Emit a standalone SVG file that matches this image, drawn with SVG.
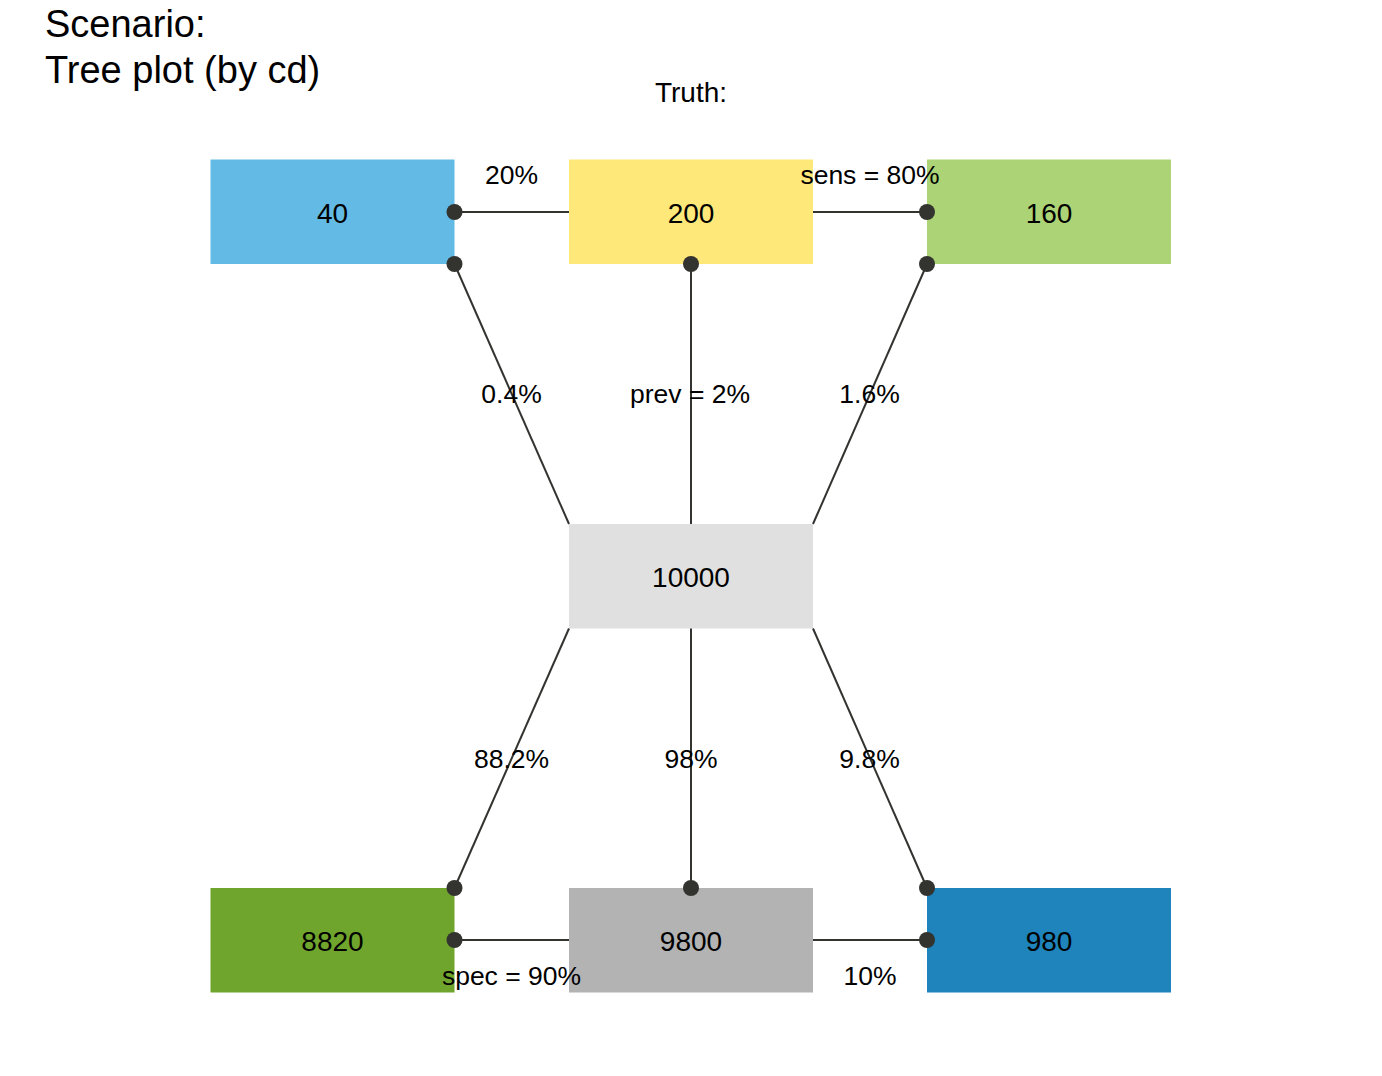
<svg xmlns="http://www.w3.org/2000/svg" width="1382" height="1076" viewBox="0 0 1382 1076">
<style>
text{font-family:"Liberation Sans",Arial,sans-serif;fill:#000}
.nl{font-size:28px;text-anchor:middle}
.el{font-size:26.5px;text-anchor:middle}
.ln{stroke:#333330;stroke-width:2;fill:none}
.dot{fill:#333330}
</style>
<rect width="1382" height="1076" fill="#fff"/>
<text x="45" y="37" style="font-size:38px">Scenario:</text>
<text x="45" y="83" style="font-size:38px">Tree plot (by cd)</text>
<text x="691" y="102" class="nl">Truth:</text>
<g id="n_N"><rect x="569" y="524" width="244" height="104.5" fill="#E0E0E0"/><text x="691" y="587" class="nl">10000</text></g>
<g id="n_true"><rect x="569" y="159.5" width="244" height="104.5" fill="#FFE87A"/><text x="691" y="223" class="nl">200</text></g>
<g id="n_mi"><rect x="210.5" y="159.5" width="244" height="104.5" fill="#63BBE5"/><text x="332.5" y="223" class="nl">40</text></g>
<g id="n_hi"><rect x="927" y="159.5" width="244" height="104.5" fill="#ACD376"/><text x="1049" y="223" class="nl">160</text></g>
<g id="n_false"><rect x="569" y="888" width="244" height="104.5" fill="#B3B3B3"/><text x="691" y="951" class="nl">9800</text></g>
<g id="n_cr"><rect x="210.5" y="888" width="244" height="104.5" fill="#70A52D"/><text x="332.5" y="951" class="nl">8820</text></g>
<g id="n_fa"><rect x="927" y="888" width="244" height="104.5" fill="#1E84BB"/><text x="1049" y="951" class="nl">980</text></g>
<g id="connectors">
<line class="ln" x1="569" y1="212" x2="454.5" y2="212"/>
<line class="ln" x1="813" y1="212" x2="927" y2="212"/>
<line class="ln" x1="569" y1="940" x2="454.5" y2="940"/>
<line class="ln" x1="813" y1="940" x2="927" y2="940"/>
<line class="ln" x1="569" y1="524" x2="454.5" y2="264"/>
<line class="ln" x1="691" y1="524" x2="691" y2="264"/>
<line class="ln" x1="813" y1="524" x2="927" y2="264"/>
<line class="ln" x1="569" y1="628.5" x2="454.5" y2="888"/>
<line class="ln" x1="691" y1="628.5" x2="691" y2="888"/>
<line class="ln" x1="813" y1="628.5" x2="927" y2="888"/>
<circle class="dot" cx="454.5" cy="212" r="8"/>
<circle class="dot" cx="927" cy="212" r="8"/>
<circle class="dot" cx="454.5" cy="940" r="8"/>
<circle class="dot" cx="927" cy="940" r="8"/>
<circle class="dot" cx="454.5" cy="264" r="8"/>
<circle class="dot" cx="691" cy="264" r="8"/>
<circle class="dot" cx="927" cy="264" r="8"/>
<circle class="dot" cx="454.5" cy="888" r="8"/>
<circle class="dot" cx="691" cy="888" r="8"/>
<circle class="dot" cx="927" cy="888" r="8"/>
</g>
<g id="edge-labels">
<text x="511.5" y="184" class="el">20%</text>
<text x="870" y="184" class="el">sens = 80%</text>
<text x="511.5" y="403" class="el">0.4%</text>
<text x="690" y="403" class="el">prev = 2%</text>
<text x="869.5" y="403" class="el">1.6%</text>
<text x="511.5" y="768" class="el">88.2%</text>
<text x="691" y="768" class="el">98%</text>
<text x="869.5" y="768" class="el">9.8%</text>
<text x="511.5" y="985" class="el">spec = 90%</text>
<text x="870" y="985" class="el">10%</text>
</g>
</svg>
